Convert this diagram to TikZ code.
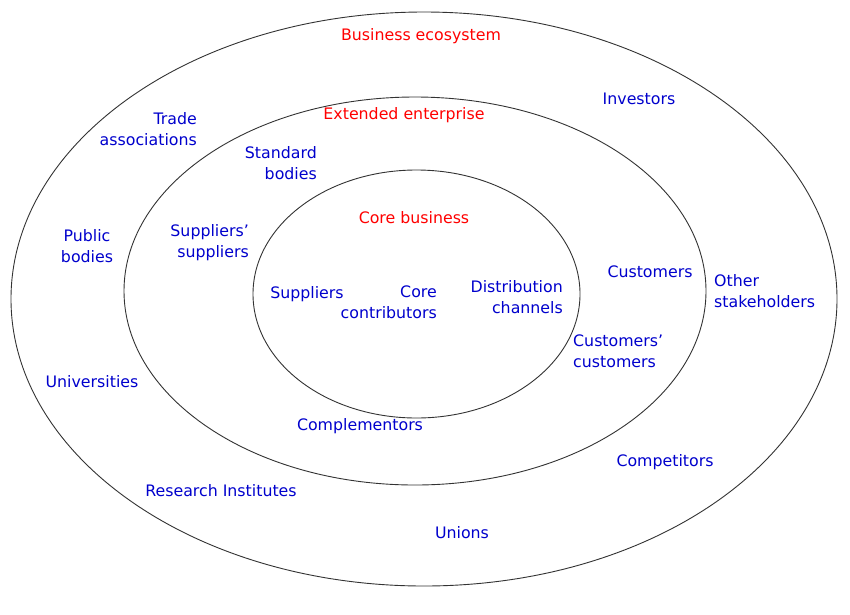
\documentclass[tikz,border=0pt]{standalone}
\usepackage{fontspec}
\setmainfont{DejaVu Sans}
\definecolor{lblblue}{RGB}{0,0,205}
\definecolor{lblred}{RGB}{255,0,0}
\begin{document}
\begin{tikzpicture}[x=1pt,y=-1pt,
  ring/.style={draw=black!80, line width=0.9pt},
  lbl/.style={text=lblblue, font=\fontsize{15.8}{21}\selectfont, inner sep=0pt},
  ttl/.style={text=lblred, font=\fontsize{15.8}{21}\selectfont, inner sep=0pt}]
\useasboundingbox (0,0) rectangle (850,614);
\fill[white] (0,0) rectangle (850,614);
\draw[ring] (424,299) ellipse [x radius=413, y radius=287];
\draw[ring] (415,291) ellipse [x radius=291, y radius=194];
\draw[ring] (416.5,294) ellipse [x radius=163.5, y radius=124];

\node[ttl] (be) at (421,36.5) {Business ecosystem};
\node[ttl] (ee) at (404,115.5) {Extended enterprise};
\node[ttl] (cb) at (414,217.5) {Core business};

\node[lbl] (inv) at (639,98.5) {Investors};
\node[lbl, align=right, anchor=east] (ta) at (197,129.5) {Trade\\associations};
\node[lbl, align=right, anchor=east] (sb) at (317,163.5) {Standard\\bodies};
\node[lbl, align=right, anchor=east] (ss) at (249,242.5) {Suppliers’\\suppliers};
\node[lbl, align=center] (pb) at (87,246.5) {Public\\bodies};
\node[lbl] (sup) at (307,294.5) {Suppliers};
\node[lbl, align=right, anchor=east] (cc) at (437,302.5) {Core\\contributors};
\node[lbl, align=right, anchor=east] (dc) at (563,297.5) {Distribution\\channels};
\node[lbl] (cus) at (650,271.5) {Customers};
\node[lbl, align=left, anchor=west] (os) at (714,291.5) {Other\\stakeholders};
\node[lbl, align=left, anchor=west] (cuc) at (573,351.5) {Customers’\\customers};
\node[lbl] (uni) at (92,381.5) {Universities};
\node[lbl] (com) at (360,426.5) {Complementors};
\node[lbl] (cmp) at (665,462.5) {Competitors};
\node[lbl] (ri) at (221,490.5) {Research Institutes};
\node[lbl] (un) at (462,532.5) {Unions};
\end{tikzpicture}
\end{document}
